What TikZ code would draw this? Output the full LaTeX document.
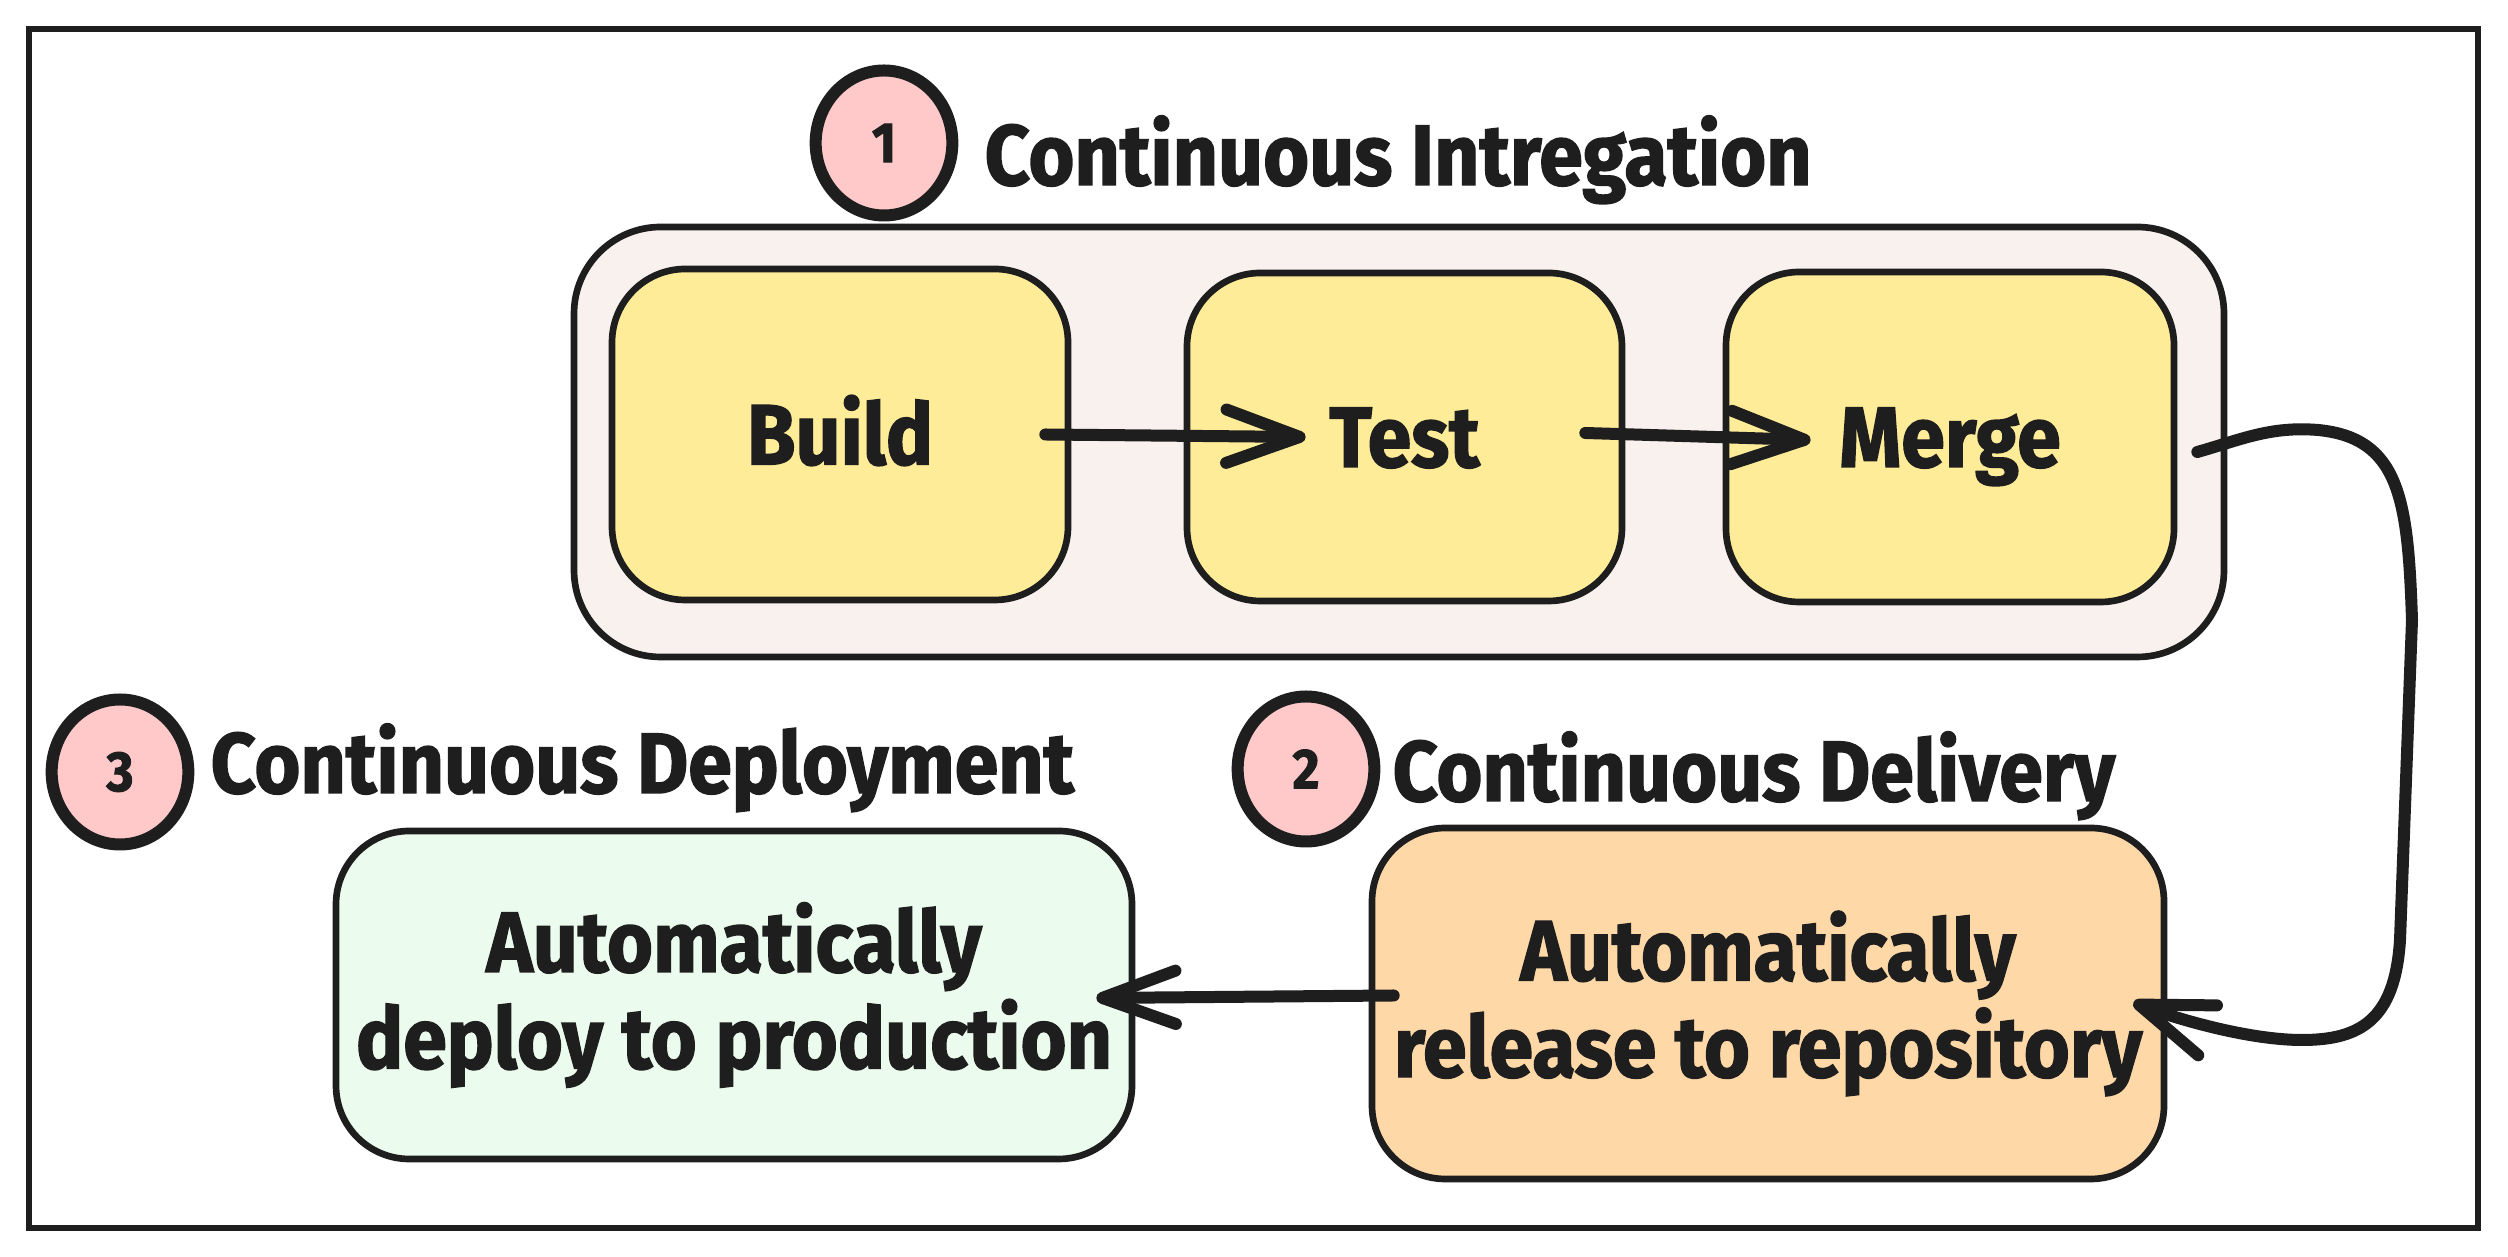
\documentclass[tikz,border=0pt]{standalone}
\usepackage{fontspec}
\setmainfont{Fira Sans}[FakeStretch=0.92, FakeBold=1.6]
\usetikzlibrary{arrows.meta,calc,shapes.geometric}
\definecolor{ink}{HTML}{1E1E1E}
\definecolor{badgepink}{HTML}{FFC9C9}
\definecolor{stepyellow}{HTML}{FFEC99}
\definecolor{groupbg}{HTML}{F8F1EE}
\definecolor{deliverorange}{HTML}{FFD8A8}
\definecolor{deploygreen}{HTML}{EBFBEE}
\newcommand{\bigfnt}{\fontsize{25.7pt}{29pt}\selectfont\bfseries}
\newcommand{\numfnt}{\fontsize{17pt}{18pt}\selectfont\bfseries}
\tikzset{
  stepbox/.style={draw=ink, line width=2pt, rounded corners=22pt, align=center, font=\bigfnt, text=ink, inner sep=0pt},
  oneline/.style={text height=18pt, text depth=0pt},
  groupbox/.style={draw=ink, fill=groupbg, line width=2pt, rounded corners=26pt, inner sep=0pt},
  badge/.style={ellipse, draw=ink, fill=badgepink, line width=3.6pt, minimum width=41pt, minimum height=43.5pt, inner sep=0pt, font=\numfnt, text=ink},
  heading/.style={anchor=base west, inner sep=0pt, font=\bigfnt, text=ink},
  arr/.style={draw=ink, line width=3.6pt, line cap=round, line join=round, -{Straight Barb[length=22pt, width=16pt, round]}},
  frame/.style={draw=ink, line width=1.8pt}
}
\begin{document}
\begin{tikzpicture}[x=0.3pt, y=-0.3pt]
\useasboundingbox (0,0) rectangle (2508,1257);
\fill[white] (0,0) rectangle (2508,1257);
\draw[frame] (29,29) rectangle (2478,1228);

% group container
\node[groupbox, minimum width=495pt, minimum height=129pt] (ci) at (1399,442) {};

% step boxes
\node[stepbox, oneline, fill=stepyellow, minimum width=136.8pt, minimum height=99.3pt] (build) at (840,434.5) {Build};
\node[stepbox, oneline, fill=stepyellow, minimum width=130.5pt, minimum height=98.4pt] (test) at (1404.5,437) {Test};
\node[stepbox, oneline, fill=stepyellow, minimum width=134.4pt, minimum height=99pt] (merge) at (1950,437) {Merge};
\node[stepbox, fill=deliverorange, minimum width=237.6pt, minimum height=105.3pt] (delivery) at (1768,1003.5) {Automatically\\release to repository};
\node[stepbox, fill=deploygreen, minimum width=238.8pt, minimum height=98.4pt] (deploy) at (734,995) {Automatically\\deploy to production};

% badges and headings
\node[badge] (b1) at (884,143) {1};
\node[heading] (h1) at (984,185) {Continuous Intregation};
\node[badge] (b2) at (1306,769) {2};
\node[heading] (h2) at (1392,801) {Continuous Delivery};
\node[badge] (b3) at (120,772) {3};
\node[heading] (h3) at (210,793) {Continuous Deployment};

% connectors
\draw[arr] ($(build.east)+(-26,0)$) -- ($(test.west)+(122,0)$);
\draw[arr] ($(test.east)+(-40,-4)$) -- ($(merge.west)+(88,3)$);
\draw[arr] ($(delivery.west)+(25,-8)$) -- ($(deploy.east)+(-39,3)$);
\draw[arr] ($(merge.east)+(20,15)$) .. controls (2240,440) and (2270,426) .. (2318,430)
  .. controls (2400,438) and (2408,500) .. (2412,620) -- (2400,940)
  .. controls (2395,1020) and (2360,1040) .. (2302,1040)
  .. controls (2250,1040) and (2180,1020) .. ($(delivery.east)+(-34,-1)$);
\end{tikzpicture}
\end{document}
